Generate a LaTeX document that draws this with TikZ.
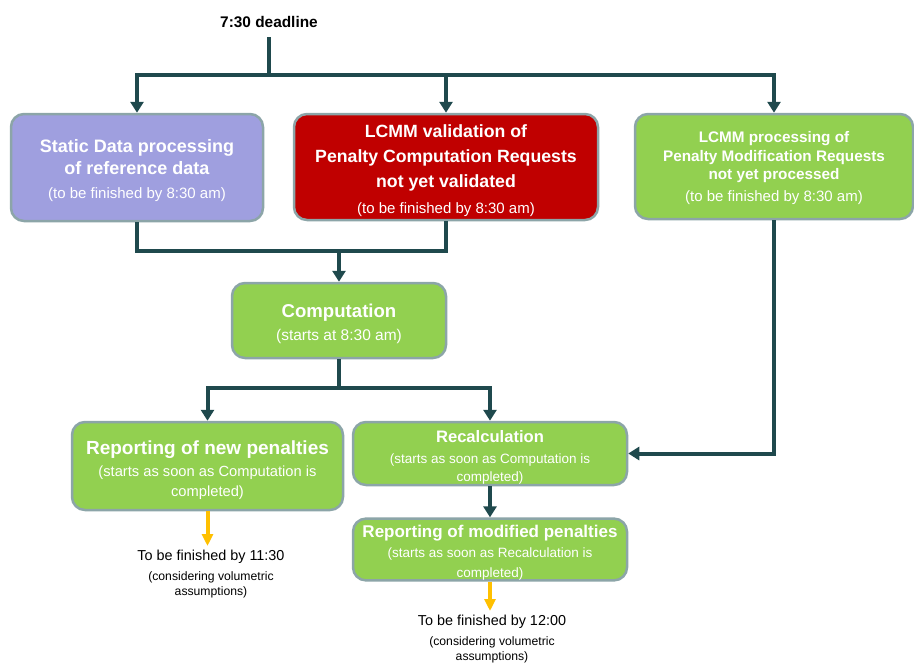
\documentclass[tikz,border=0pt]{standalone}
\usepackage{fontspec}
\setmainfont{Liberation Sans}
\usetikzlibrary{arrows.meta}

\definecolor{rim}{RGB}{140,165,168}
\definecolor{flow}{RGB}{31,73,77}
\definecolor{lavender}{RGB}{159,159,223}
\definecolor{alarm}{RGB}{192,0,0}
\definecolor{leaf}{RGB}{146,208,80}
\definecolor{amber}{RGB}{255,192,0}

\newcommand{\smalltxt}[2]{{\fontsize{#1}{#1}\selectfont\mdseries #2}}

\begin{document}
\begin{tikzpicture}[x=1pt,y=-1pt,
    box/.style={rectangle,rounded corners=13pt,draw=rim,line width=2.5pt,
        text=white,align=center,inner sep=0pt},
    line/.style={draw=flow,line width=4pt},
    link/.style={line,-{Triangle[width=13pt,length=11pt]}},
    warn/.style={draw=amber,line width=4pt,-{Triangle[width=11pt,length=12pt]}},
    due/.style={align=center,inner sep=0pt,font=\fontsize{14.4}{15}\selectfont}]

    \useasboundingbox (0,0) rectangle (914,664);

    \node[font=\fontsize{15.4}{16}\selectfont\bfseries] (deadline) at (269,22) {7:30 deadline};
    \coordinate (split) at (269,75);

    \node[box, fill=lavender, minimum width=252, minimum height=107,
        font=\fontsize{18}{22}\selectfont\bfseries] (static) at (137,167.5)
        {\rule{0pt}{20pt}Static Data processing\\ of reference data\\[2pt] \smalltxt{15}{(to be finished by 8:30 am)}};
    \node[box, fill=alarm, minimum width=304, minimum height=106,
        font=\fontsize{17.7}{25}\selectfont\bfseries] (valid) at (446,167)
        {\rule{0pt}{20pt}LCMM validation of\\ Penalty Computation Requests\\ not yet validated\\[1pt] \smalltxt{15}{(to be finished by 8:30 am)}};
    \node[box, fill=leaf, minimum width=278, minimum height=105,
        font=\fontsize{15.3}{18.5}\selectfont\bfseries] (proc) at (774,166.5)
        {\rule{0pt}{15pt}LCMM processing of\\ Penalty Modification Requests\\ not yet processed\\[3.5pt] \smalltxt{15}{(to be finished by 8:30 am)}};

    \coordinate (join) at (339,251);
    \node[box, fill=leaf, minimum width=214, minimum height=75,
        font=\fontsize{18.6}{23}\selectfont\bfseries] (comp) at (339,320.5)
        {\rule{0pt}{20pt}Computation\\ \smalltxt{15.5}{(starts at 8:30 am)}};

    \coordinate (fork) at (339,388);
    \node[box, fill=leaf, minimum width=271, minimum height=88,
        font=\fontsize{19}{20}\selectfont\bfseries] (newrep) at (207.5,466)
        {\rule{0pt}{22pt}Reporting of new penalties\\[2pt] \smalltxt{14.7}{(starts as soon as Computation is}\\ \smalltxt{14.7}{completed)}};
    \node[box, fill=leaf, minimum width=274, minimum height=63,
        font=\fontsize{16.6}{18}\selectfont\bfseries] (recalc) at (490,453.5)
        {\rule{0pt}{19pt}Recalculation\\[3pt] \smalltxt{13.5}{(starts as soon as Computation is}\\ \smalltxt{13.5}{completed)}};
    \node[box, fill=leaf, minimum width=274, minimum height=57,
        font=\fontsize{17}{20}\selectfont\bfseries] (modrep) at (490,549.5)
        {\rule{0pt}{19pt}Reporting of modified penalties\\ \smalltxt{13.5}{(starts as soon as Recalculation is}\\ \smalltxt{13.5}{completed)}};

    \node[due, anchor=north] (due1) at (211,550)
        {To be finished by 11:30\\[5pt] \smalltxt{12.2}{(considering volumetric}\\ \smalltxt{12.2}{assumptions)}};
    \node[due, anchor=north] (due2) at (492,615)
        {To be finished by 12:00\\[5pt] \smalltxt{12.2}{(considering volumetric}\\ \smalltxt{12.2}{assumptions)}};

    \draw[line] (deadline.south) ++(0,6) -- (split);
    \draw[link] (split) -| (static.north);
    \draw[link] (split) -| (valid.north);
    \draw[link] (split) -| (proc.north);

    \draw[line] (static.south) |- (join);
    \draw[line] (valid.south) |- (join);
    \draw[link] (join) -- (comp.north);

    \draw[line] (comp.south) -- (fork);
    \draw[link] (fork) -| (newrep.north);
    \draw[link] (fork) -| (recalc.north);
    \draw[link] (proc.south) |- (recalc.east);
    \draw[link] (recalc.south) -- (modrep.north);

    \draw[warn] (newrep.south) -- (newrep.south |- 0,546);
    \draw[warn] (modrep.south) -- (modrep.south |- 0,611);

\end{tikzpicture}
\end{document}
